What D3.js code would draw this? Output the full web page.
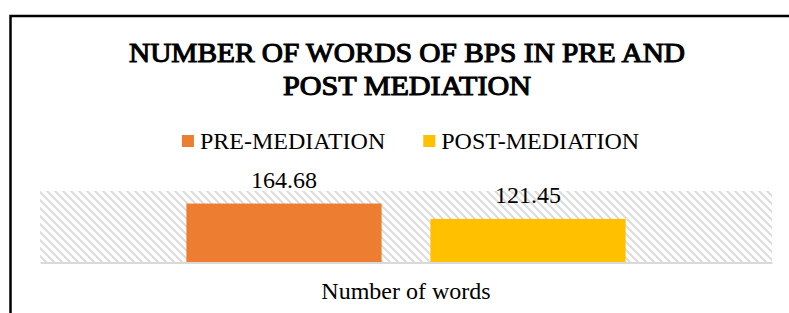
<!DOCTYPE html>
<html>
<head>
<meta charset="utf-8">
<script src="https://cdn.jsdelivr.net/npm/d3@7"></script>
<style>
  html, body { margin: 0; padding: 0; background: #fff; }
  svg { display: block; }
  text { font-family: "Liberation Serif", "Times New Roman", serif; fill: #000; }
</style>
</head>
<body>
<svg id="chart" width="789" height="313"></svg>
<script>
const titleLines = ["NUMBER OF WORDS OF BPS IN PRE AND", "POST MEDIATION"];
const categories = ["Number of words"];
const seriesNames = ["PRE-MEDIATION", "POST-MEDIATION"];
const seriesColors = ["#ED7D31", "#FFC000"];
const preValues = [164.68];
const postValues = [121.45];
const yDomain = [0, 200];

const W = 789, H = 313;
const plot = { left: 40, right: 772, top: 191, bottom: 262 };

const svg = d3.select("#chart");

// hatch pattern for plot area
const defs = svg.append("defs");
const pat = defs.append("pattern")
  .attr("id", "hatch")
  .attr("patternUnits", "userSpaceOnUse")
  .attr("width", 8).attr("height", 8);
pat.append("rect").attr("width", 8).attr("height", 8).attr("fill", "#fff");
pat.append("path")
  .attr("d", "M-2,-2 L10,10 M-2,6 L2,10 M6,-2 L10,2")
  .attr("stroke", "#dcdcdc").attr("stroke-width", 2);

// outer border (left + top)
svg.append("path")
  .attr("d", `M10.5,${H} V16 H${W}`)
  .attr("fill", "none").attr("stroke", "#000").attr("stroke-width", 2.5);

// title (serif, emboldened with a thin stroke)
svg.append("g").selectAll("text").data(titleLines).join("text")
  .attr("x", 407)
  .attr("y", (d, i) => 62 + i * 33)
  .attr("text-anchor", "middle")
  .attr("font-size", 28)
  .attr("stroke", "#000")
  .attr("stroke-width", 1.1)
  .attr("textLength", (d, i) => i === 0 ? 556 : 248)
  .attr("lengthAdjust", "spacingAndGlyphs")
  .text(d => d);

// scales
const x0 = d3.scaleBand().domain(categories).range([plot.left, plot.right]);
const x1 = d3.scaleBand().domain(seriesNames).range([0, x0.bandwidth()])
  .paddingInner(0.2).paddingOuter(0.6);
const y = d3.scaleLinear().domain(yDomain).range([plot.bottom, plot.top]);

// plot area background
svg.append("rect")
  .attr("x", plot.left).attr("y", plot.top)
  .attr("width", plot.right - plot.left).attr("height", plot.bottom - plot.top)
  .attr("fill", "url(#hatch)");

// bars
const rows = categories.map((c, i) => ({
  cat: c,
  vals: [
    { s: seriesNames[0], v: preValues[i], c: seriesColors[0] },
    { s: seriesNames[1], v: postValues[i], c: seriesColors[1] }
  ]
}));

const g = svg.append("g").selectAll("g").data(rows).join("g")
  .attr("transform", d => `translate(${x0(d.cat)},0)`);

g.selectAll("rect").data(d => d.vals).join("rect")
  .attr("x", d => x1(d.s))
  .attr("y", d => y(d.v))
  .attr("width", x1.bandwidth())
  .attr("height", d => y(0) - y(d.v))
  .attr("fill", d => d.c);

g.selectAll("text.lbl").data(d => d.vals).join("text")
  .attr("class", "lbl")
  .attr("x", d => x1(d.s) + x1.bandwidth() / 2)
  .attr("y", d => y(d.v) - 16)
  .attr("text-anchor", "middle")
  .attr("font-size", 24)
  .text(d => d3.format(".2f")(d.v));

// x axis baseline
const xAxis = d3.axisBottom(x0).tickSize(0).tickPadding(0);
const ax = svg.append("g").attr("transform", `translate(0,${plot.bottom + 0.5})`).call(xAxis);
ax.select(".domain").attr("stroke", "#d9d9d9").attr("stroke-width", 2);
ax.selectAll(".tick text")
  .attr("font-size", 24)
  .attr("font-family", "Liberation Serif, Times New Roman, serif")
  .attr("fill", "#000")
  .attr("dy", null)
  .attr("y", 36);

// legend
const legend = svg.append("g");
const items = legend.selectAll("g").data(seriesNames).join("g");
items.append("rect").attr("width", 12).attr("height", 12)
  .attr("y", 135).attr("fill", (d, i) => seriesColors[i]);
items.append("text").attr("x", 18).attr("y", 149).attr("font-size", 24).text(d => d);
let widths = [];
items.each(function () { widths.push(18 + this.querySelector("text").getComputedTextLength()); });
const gap = 38;
const total = d3.sum(widths) + gap * (widths.length - 1);
let cx = 410.5 - total / 2;
items.attr("transform", (d, i) => {
  const t = `translate(${cx},0)`;
  cx += widths[i] + gap;
  return t;
});
</script>
</body>
</html>
